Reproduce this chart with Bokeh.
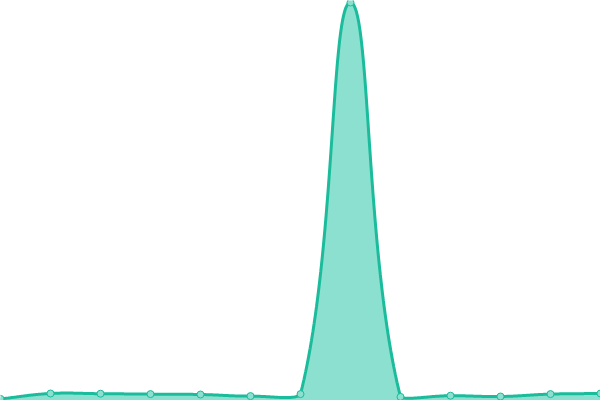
import numpy as np
from bokeh.plotting import figure
from bokeh.models import Range1d
from bokeh.embed import file_html
from bokeh.resources import INLINE

# ---- data ----
labels = ["P1", "P2", "P3", "P4", "P5", "P6", "P7", "P8", "P9", "P10", "P11", "P12", "P13"]
values = [0.4, 1.75, 1.7, 1.6, 1.5, 1.1, 1.6, 99.5, 0.9, 1.2, 1.0, 1.6, 1.75]
y_max = 100

LINE = "#1abc9c"
FILL = "#8be0cf"

W, H = 600, 400
n = len(values)
x_idx = np.arange(n, dtype=float)
x_max = n - 1

# Smooth (tension) curve through the data, computed in screen space
sx = W / x_max
sy = H / y_max
px = x_idx * sx
py = np.array(values, dtype=float) * sy
tension = 0.4
cp_prev = []
cp_next = []
for i in range(n):
    a = i - 1 if i > 0 else i
    b = i + 1 if i < n - 1 else i
    d01 = np.hypot(px[i] - px[a], py[i] - py[a])
    d12 = np.hypot(px[b] - px[i], py[b] - py[i])
    tot = d01 + d12
    s01 = d01 / tot if tot else 0.0
    s12 = d12 / tot if tot else 0.0
    fa = tension * s01
    fb = tension * s12
    c1 = (px[i] - fa * (px[b] - px[a]), py[i] - fa * (py[b] - py[a]))
    c2 = (px[i] + fb * (px[b] - px[a]), py[i] + fb * (py[b] - py[a]))
    c1 = (min(max(c1[0], 0), W), min(max(c1[1], 0), H))
    c2 = (min(max(c2[0], 0), W), min(max(c2[1], 0), H))
    cp_prev.append(c1)
    cp_next.append(c2)

t = np.linspace(0, 1, 60)
cx, cy = [], []
for i in range(n - 1):
    p0 = np.array([px[i], py[i]])
    p1 = np.array(cp_next[i])
    p2 = np.array(cp_prev[i + 1])
    p3 = np.array([px[i + 1], py[i + 1]])
    tt = t if i == 0 else t[1:]
    for s in tt:
        q = (1 - s) ** 3 * p0 + 3 * (1 - s) ** 2 * s * p1 + 3 * (1 - s) * s ** 2 * p2 + s ** 3 * p3
        cx.append(q[0] / sx)
        cy.append(q[1] / sy)

p = figure(width=W, height=H, output_backend="svg", toolbar_location=None,
           x_range=Range1d(0, x_max), y_range=Range1d(0, y_max),
           min_border=0, min_border_left=0, min_border_right=0,
           min_border_top=0, min_border_bottom=0)
p.axis.visible = False
p.grid.visible = False
p.outline_line_color = None
p.background_fill_color = "white"
p.border_fill_color = "white"

p.varea(x=cx, y1=[0] * len(cy), y2=cy, fill_color=FILL, fill_alpha=1.0)
p.line(cx, cy, line_color=LINE, line_width=3)
p.scatter(x_idx, values, marker="circle", size=7, fill_color=FILL,
          line_color=LINE, line_width=1)

open("out.html", "w").write(file_html(p, INLINE))
